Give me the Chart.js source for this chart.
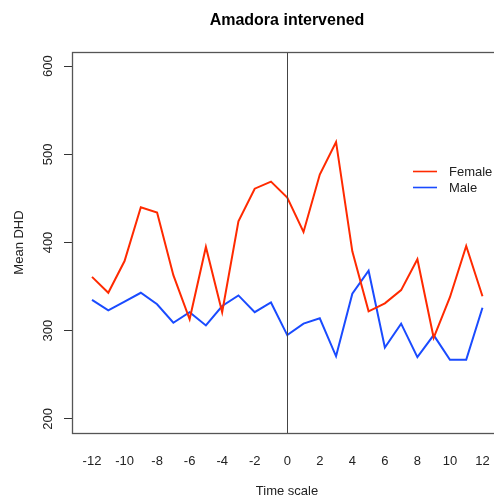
<!DOCTYPE html>
<html>
<head>
<meta charset="utf-8">
<title>Amadora intervened</title>
<script src="https://cdn.jsdelivr.net/npm/chart.js@4/dist/chart.umd.min.js"></script>
<style>
  html, body { margin: 0; padding: 0; overflow: hidden; background: #fff; }
  #wrap { width: 494px; height: 496px; overflow: hidden; position: relative; }
  canvas { display: block; }
</style>
</head>
<body>
<div id="wrap"><canvas id="chart" width="574" height="496"></canvas></div>
<script>
// Months relative to the intervention (0 = intervention)
const timeScale = [-12, -11, -10, -9, -8, -7, -6, -5, -4, -3, -2, -1, 0, 1, 2, 3, 4, 5, 6, 7, 8, 9, 10, 11, 12];
// Mean DHD by sex
const femaleDHD = [361, 343, 379, 440, 434, 363, 313, 395, 321, 424, 461, 469, 451, 412, 477, 514, 390, 322, 331, 346, 381, 292, 338, 396, 339];
const maleDHD   = [335, 323, 333, 343, 330, 309, 321, 306, 328, 340, 321, 332, 295, 308, 314, 271, 342, 368, 281, 308, 270, 295, 267, 267, 326];
// Axis ticks
const xTicks = [-12, -10, -8, -6, -4, -2, 0, 2, 4, 6, 8, 10, 12];
const yTicks = [200, 300, 400, 500, 600];
const seriesNames = ['Female', 'Male'];
const seriesColors = ['#ff2a00', '#1a4bff'];

const FONT = '"Liberation Sans", Arial, Helvetica, sans-serif';

function toPoints(values) {
  return values.map((v, i) => ({ x: timeScale[i], y: v }));
}

// Plot frame and the vertical reference line at the intervention
const framePlugin = {
  id: 'frame',
  afterDatasetsDraw(chart) {
    const { ctx, chartArea: a, scales } = chart;
    ctx.save();
    const x0 = Math.round(scales.x.getPixelForValue(0)) + 0.5;
    ctx.strokeStyle = '#444';
    ctx.lineWidth = 1;
    ctx.beginPath();
    ctx.moveTo(x0, a.top);
    ctx.lineTo(x0, a.bottom);
    ctx.stroke();
    ctx.strokeStyle = '#555';
    ctx.lineWidth = 1.3;
    ctx.strokeRect(Math.round(a.left) + 0.5, Math.round(a.top) + 0.5,
                   Math.round(a.right - a.left), Math.round(a.bottom - a.top));
    ctx.restore();
  }
};

// Legend drawn inside the plot area, without a box
const insideLegend = {
  id: 'insideLegend',
  afterDraw(chart) {
    const { ctx } = chart;
    ctx.save();
    ctx.font = '13px ' + FONT;
    ctx.textBaseline = 'middle';
    ctx.textAlign = 'left';
    chart.data.datasets.forEach((ds, i) => {
      const y = 171.5 + i * 16;
      ctx.strokeStyle = ds.borderColor;
      ctx.lineWidth = 1.6;
      ctx.beginPath();
      ctx.moveTo(413, y);
      ctx.lineTo(437, y);
      ctx.stroke();
      ctx.fillStyle = '#222';
      ctx.fillText(ds.label, 449, y + 0.5);
    });
    ctx.restore();
  }
};

new Chart(document.getElementById('chart'), {
  type: 'line',
  data: {
    datasets: [
      { label: seriesNames[0], data: toPoints(femaleDHD), borderColor: seriesColors[0] },
      { label: seriesNames[1], data: toPoints(maleDHD), borderColor: seriesColors[1] }
    ]
  },
  options: {
    responsive: false,
    animation: false,
    devicePixelRatio: 1,
    layout: { padding: { left: 0, right: 72, top: 0, bottom: 0 } },
    elements: {
      line: { borderWidth: 2, tension: 0, fill: false },
      point: { radius: 0, hoverRadius: 0 }
    },
    plugins: {
      legend: { display: false },
      tooltip: { enabled: false },
      title: {
        display: true,
        fullSize: false,
        text: 'Amadora intervened',
        color: '#000',
        font: { family: FONT, size: 16, weight: 'bold', lineHeight: 1.2 },
        padding: { top: 11, bottom: 21.8 }
      }
    },
    scales: {
      x: {
        type: 'linear',
        min: -13.23,
        max: 13.2,
        afterBuildTicks(scale) { scale.ticks = xTicks.map(v => ({ value: v })); },
        afterFit(scale) { scale.height = 63; },
        grid: { display: false, drawTicks: false },
        border: { display: false },
        ticks: {
          color: '#222',
          font: { family: FONT, size: 13, lineHeight: 1.2 },
          padding: 20.5,
          maxRotation: 0,
          autoSkip: false
        },
        title: {
          display: true,
          text: 'Time scale',
          color: '#222',
          font: { family: FONT, size: 13, lineHeight: 0.75 },
          padding: { top: 0, bottom: 0 }
        }
      },
      y: {
        type: 'linear',
        min: 184,
        max: 616,
        afterBuildTicks(scale) { scale.ticks = yTicks.map(v => ({ value: v })); },
        afterFit(scale) { scale.width = 72; },
        grid: { drawOnChartArea: false, drawTicks: true, tickLength: 8, color: '#333', lineWidth: 1 },
        border: { display: false },
        ticks: {
          color: '#222',
          font: { family: FONT, size: 13, lineHeight: 1.2 },
          minRotation: 90,
          maxRotation: 90,
          crossAlign: 'center',
          padding: 5,
          autoSkip: false
        },
        title: {
          display: true,
          text: 'Mean DHD',
          color: '#222',
          font: { family: FONT, size: 13, lineHeight: 1.2 },
          padding: { top: 12, bottom: 0 }
        }
      }
    }
  },
  plugins: [framePlugin, insideLegend]
});
</script>
</body>
</html>
